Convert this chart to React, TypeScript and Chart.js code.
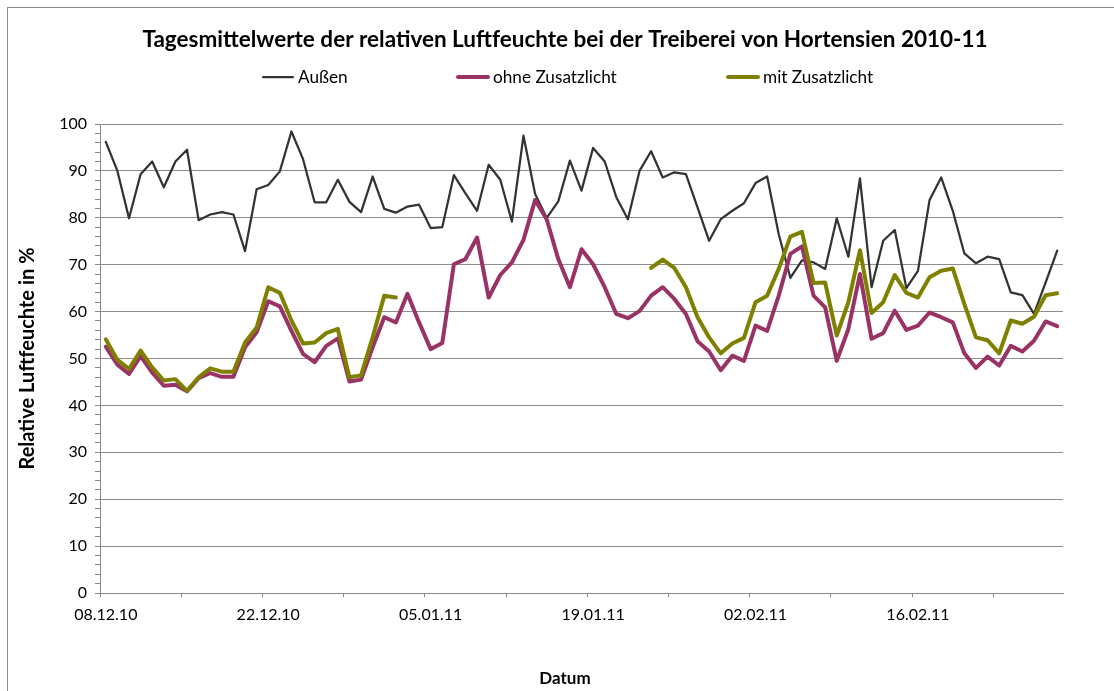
import React, { useEffect, useRef } from "react";
import { Chart, registerables } from "chart.js";

Chart.register(...registerables);

const TITLE = "Tagesmittelwerte der relativen Luftfeuchte bei der Treiberei von Hortensien 2010-11";
const X_TITLE = "Datum";
const Y_TITLE = "Relative Luftfeuchte in %";

const dates: string[] = [
  "08.12.10", "09.12.10", "10.12.10", "11.12.10", "12.12.10", "13.12.10", "14.12.10", "15.12.10",
  "16.12.10", "17.12.10", "18.12.10", "19.12.10", "20.12.10", "21.12.10", "22.12.10", "23.12.10",
  "24.12.10", "25.12.10", "26.12.10", "27.12.10", "28.12.10", "29.12.10", "30.12.10", "31.12.10",
  "01.01.11", "02.01.11", "03.01.11", "04.01.11", "05.01.11", "06.01.11", "07.01.11", "08.01.11",
  "09.01.11", "10.01.11", "11.01.11", "12.01.11", "13.01.11", "14.01.11", "15.01.11", "16.01.11",
  "17.01.11", "18.01.11", "19.01.11", "20.01.11", "21.01.11", "22.01.11", "23.01.11", "24.01.11",
  "25.01.11", "26.01.11", "27.01.11", "28.01.11", "29.01.11", "30.01.11", "31.01.11",
  "01.02.11", "02.02.11", "03.02.11", "04.02.11", "05.02.11", "06.02.11", "07.02.11", "08.02.11",
  "09.02.11", "10.02.11", "11.02.11", "12.02.11", "13.02.11", "14.02.11", "15.02.11", "16.02.11",
  "17.02.11", "18.02.11", "19.02.11", "20.02.11", "21.02.11", "22.02.11", "23.02.11", "24.02.11",
  "25.02.11", "26.02.11", "27.02.11", "28.02.11",
];

const aussen: number[] = [
  96.2, 90.0, 79.9, 89.3, 92.0, 86.5, 92.0, 94.5, 79.5, 80.7,
  81.2, 80.7, 72.9, 86.1, 87.0, 89.9, 98.4, 92.5, 83.3, 83.3,
  88.1, 83.4, 81.2, 88.8, 81.9, 81.1, 82.4, 82.8, 77.8, 78.0,
  89.1, 85.2, 81.5, 91.3, 88.1, 79.2, 97.5, 85.1, 80.0, 83.5,
  92.2, 85.8, 94.9, 92.0, 84.4, 79.7, 90.0, 94.2, 88.6, 89.7,
  89.3, 82.2, 75.1, 79.7, 81.5, 83.1, 87.4, 88.8, 76.5, 67.2,
  70.9, 70.5, 69.1, 79.9, 71.7, 88.4, 65.2, 75.1, 77.4, 65.0,
  68.7, 83.8, 88.6, 81.5, 72.4, 70.3, 71.7, 71.2, 64.1, 63.5,
  59.5, 66.2, 73.0,
];

const ohneZusatzlicht: number[] = [
  52.5, 48.7, 46.7, 50.5, 47.0, 44.2, 44.4, 43.0, 45.8, 46.9,
  46.1, 46.1, 52.4, 55.6, 62.2, 61.1, 55.9, 51.0, 49.2, 52.7,
  54.3, 45.1, 45.5, 52.4, 58.8, 57.7, 63.8, 57.7, 52.0, 53.3,
  70.1, 71.2, 75.8, 63.0, 67.8, 70.5, 75.3, 83.8, 79.7, 71.2,
  65.2, 73.3, 70.1, 65.2, 59.5, 58.6, 60.1, 63.4, 65.2, 62.7,
  59.5, 53.7, 51.5, 47.5, 50.6, 49.5, 57.0, 55.9, 63.4, 72.3,
  73.9, 63.4, 60.9, 49.5, 56.3, 68.0, 54.2, 55.4, 60.2, 56.1,
  57.0, 59.8, 58.8, 57.7, 51.1, 48.0, 50.4, 48.5, 52.7, 51.5,
  53.8, 57.9, 56.9,
];

const mitZusatzlicht: (number | null)[] = [
  54.1, 49.7, 47.8, 51.7, 48.1, 45.3, 45.6, 43.1, 46.0, 47.9,
  47.2, 47.2, 53.4, 56.6, 65.2, 64.0, 58.1, 53.2, 53.4, 55.4,
  56.3, 46.0, 46.4, 54.5, 63.4, 63.0, null, null, null, null,
  null, null, null, null, null, null, null, null, null, null,
  null, null, null, null, null, null, null, 69.3, 71.1, 69.3,
  65.2, 58.8, 54.5, 51.1, 53.2, 54.4, 62.0, 63.4, 69.1, 76.0,
  77.0, 66.1, 66.2, 54.9, 62.0, 73.1, 59.7, 62.0, 67.8, 64.0,
  63.0, 67.3, 68.7, 69.2, 61.6, 54.5, 53.9, 51.1, 58.1, 57.4,
  58.9, 63.5, 63.9,
];

const seriesNames = ["Außen", "ohne Zusatzlicht", "mit Zusatzlicht"];
const seriesColors = ["#333333", "#993366", "#808000"];
const seriesWidths = [2.25, 4, 4];

const FONT = "Lato, 'Noto Sans', sans-serif";
const AXIS_COLOR = "#868686";
const GRID_COLOR = "#8c8c8c";

const textPlugin = {
  id: "excelText",
  afterDraw(chart: any) {
    const ctx = chart.ctx;
    ctx.save();
    ctx.fillStyle = "#000";
    ctx.textBaseline = "alphabetic";
    ctx.textAlign = "center";
    ctx.font = `bold 22.5px ${FONT}`;
    ctx.fillText(TITLE, 565, 47);

    const legendX = [262, 457, 727];
    ctx.textAlign = "left";
    ctx.font = `17.2px ${FONT}`;
    chart.data.datasets.forEach((ds: any, i: number) => {
      const x = legendX[i];
      ctx.strokeStyle = ds.borderColor;
      ctx.lineWidth = ds.borderWidth;
      ctx.lineCap = "round";
      ctx.beginPath();
      ctx.moveTo(x + 1, 77);
      ctx.lineTo(x + 31, 77);
      ctx.stroke();
      ctx.fillText(ds.label, x + 36, 83);
    });

    ctx.textAlign = "center";
    ctx.font = `bold 17px ${FONT}`;
    ctx.fillText(X_TITLE, 565, 684);
    ctx.restore();
  },
};

export default function App() {
  const canvasRef = useRef<HTMLCanvasElement | null>(null);

  useEffect(() => {
    const canvas = canvasRef.current;
    if (!canvas) return;
    const seriesData = [aussen, ohneZusatzlicht, mitZusatzlicht];
    const chart = new Chart(canvas, {
      type: "line",
      data: {
        labels: dates,
        datasets: seriesData.map((d, i) => ({
          label: seriesNames[i],
          data: d,
          borderColor: seriesColors[i],
          backgroundColor: seriesColors[i],
          borderWidth: seriesWidths[i],
          pointRadius: 0,
          tension: 0,
          spanGaps: false,
          borderJoinStyle: "round" as const,
          borderCapStyle: "round" as const,
          order: 3 - i,
        })),
      },
      options: {
        responsive: false,
        animation: false,
        events: [],
        layout: { padding: { left: 12, right: 51, top: 124, bottom: 0 } },
        plugins: {
          legend: { display: false },
          title: { display: false },
          tooltip: { enabled: false },
        },
        scales: {
          x: {
            type: "category",
            offset: true,
            grid: {
              offset: true,
              drawOnChartArea: false,
              tickLength: 4,
              tickColor: (c: any) =>
                typeof c.index === "number" && c.index % 7 === 0 ? AXIS_COLOR : "rgba(0,0,0,0)",
            },
            border: { color: AXIS_COLOR, width: 1 },
            ticks: {
              autoSkip: false,
              maxRotation: 0,
              minRotation: 0,
              padding: 8,
              color: "#000",
              font: { family: FONT, size: 16 },
              callback: (_v: any, i: number) => (i % 14 === 0 ? dates[i] : ""),
            },
            afterFit: (s: any) => {
              s.height = 98;
            },
          },
          y: {
            min: 0,
            max: 100,
            grid: {
              color: (c: any) =>
                c.tick && c.tick.value % 10 === 0 ? GRID_COLOR : "rgba(0,0,0,0)",
              tickColor: AXIS_COLOR,
              tickLength: 5,
            },
            border: { color: AXIS_COLOR, width: 1 },
            ticks: {
              stepSize: 2,
              autoSkip: false,
              padding: 8,
              color: "#000",
              font: { family: FONT, size: 16 },
              callback: (v: any) => (Number(v) % 10 === 0 ? String(v) : ""),
            },
            title: {
              display: true,
              text: Y_TITLE,
              color: "#000",
              font: { family: FONT, size: 20, weight: "bold" },
              padding: { top: 4, bottom: 0 },
            },
            afterFit: (s: any) => {
              s.width = 88;
            },
          },
        },
      },
      plugins: [textPlugin],
    });
    return () => chart.destroy();
  }, []);

  return (
    <div
      style={{
        position: "fixed",
        left: 0,
        top: 0,
        width: 1114,
        height: 691,
        overflow: "hidden",
        background: "#fff",
      }}
    >
      <div
        style={{
          position: "absolute",
          left: 7,
          top: 7,
          width: 1130,
          height: 710,
          border: "1px solid #8a8a8a",
        }}
      />
      <canvas
        ref={canvasRef}
        width={1114}
        height={691}
        style={{ position: "absolute", left: 0, top: 0, width: 1114, height: 691 }}
      />
    </div>
  );
}
